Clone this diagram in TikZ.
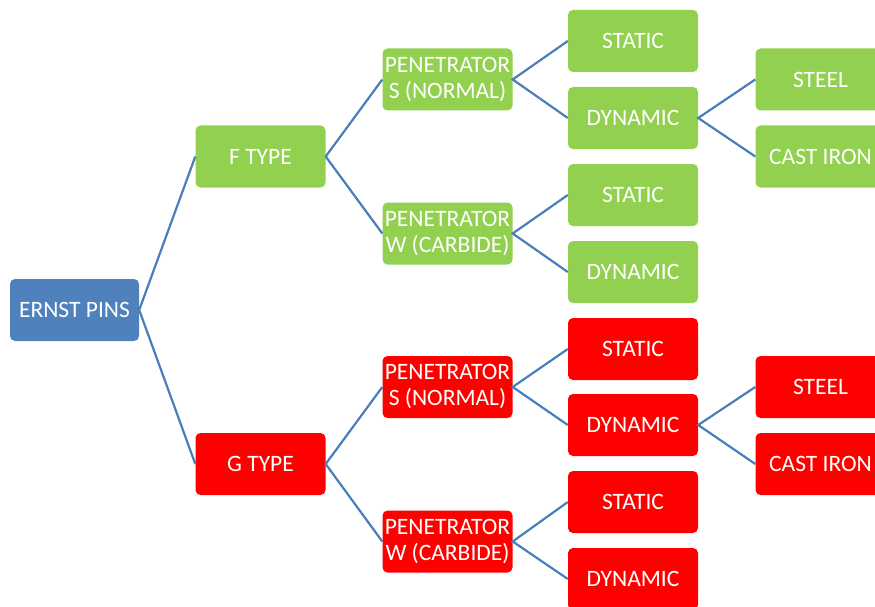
\documentclass[tikz,border=0pt]{standalone}
\usepackage{fontspec}
\setmainfont{Carlito}
\usetikzlibrary{positioning}
\definecolor{pinblue}{HTML}{4F81BD}
\definecolor{pingreen}{HTML}{92D050}
\definecolor{pinred}{HTML}{FF0000}
\definecolor{linkblue}{HTML}{4A7EBB}
\tikzset{
  box/.style={rounded corners=5pt,minimum width=130pt,minimum height=62pt,
    text=white,align=center,inner sep=1pt,font=\fontsize{23.5}{26}\selectfont},
  rootbox/.style={box,fill=pinblue,minimum width=129pt},
  fbox/.style={box,fill=pingreen},
  gbox/.style={box,fill=pinred},
  link/.style={draw=linkblue,line width=2.2pt}
}
\begin{document}
\begin{tikzpicture}[x=1pt,y=-1pt]
\useasboundingbox (0,0) rectangle (875,607);
\clip (0,0) rectangle (875,607);
% root
\node[rootbox] (pins) at (74.5,310) {ERNST PINS};
\node[fbox] (ft) at (260.5,156.5) {F TYPE};
\node[gbox] (gt) at (260.5,464) {G TYPE};
% F branch
\node[fbox] (fn) at (447.5,79.5) {PENETRATOR\\S (NORMAL)};
\node[fbox] (fc) at (447.5,233.5) {PENETRATOR\\W (CARBIDE)};
\node[fbox] (fns) at (633,41) {STATIC};
\node[fbox] (fnd) at (633,118) {DYNAMIC};
\node[fbox] (fcs) at (633,195) {STATIC};
\node[fbox] (fcd) at (633,272) {DYNAMIC};
\node[fbox] (fst) at (820.5,79.5) {STEEL};
\node[fbox] (fci) at (820.5,156.5) {CAST IRON};
% G branch
\node[gbox] (gn) at (447.5,387) {PENETRATOR\\S (NORMAL)};
\node[gbox] (gc) at (447.5,541.5) {PENETRATOR\\W (CARBIDE)};
\node[gbox] (gns) at (633,349) {STATIC};
\node[gbox] (gnd) at (633,425) {DYNAMIC};
\node[gbox] (gcs) at (633,502) {STATIC};
\node[gbox] (gcd) at (633,579) {DYNAMIC};
\node[gbox] (gst) at (820.5,387) {STEEL};
\node[gbox] (gci) at (820.5,464) {CAST IRON};
% links
\draw[link] (ft.west) -- (pins.east) -- (gt.west);
\draw[link] (fn.west) -- (ft.east) -- (fc.west);
\draw[link] (gn.west) -- (gt.east) -- (gc.west);
\draw[link] (fns.west) -- (fn.east) -- (fnd.west);
\draw[link] (fcs.west) -- (fc.east) -- (fcd.west);
\draw[link] (gns.west) -- (gn.east) -- (gnd.west);
\draw[link] (gcs.west) -- (gc.east) -- (gcd.west);
\draw[link] (fst.west) -- (fnd.east) -- (fci.west);
\draw[link] (gst.west) -- (gnd.east) -- (gci.west);
\end{tikzpicture}
\end{document}
